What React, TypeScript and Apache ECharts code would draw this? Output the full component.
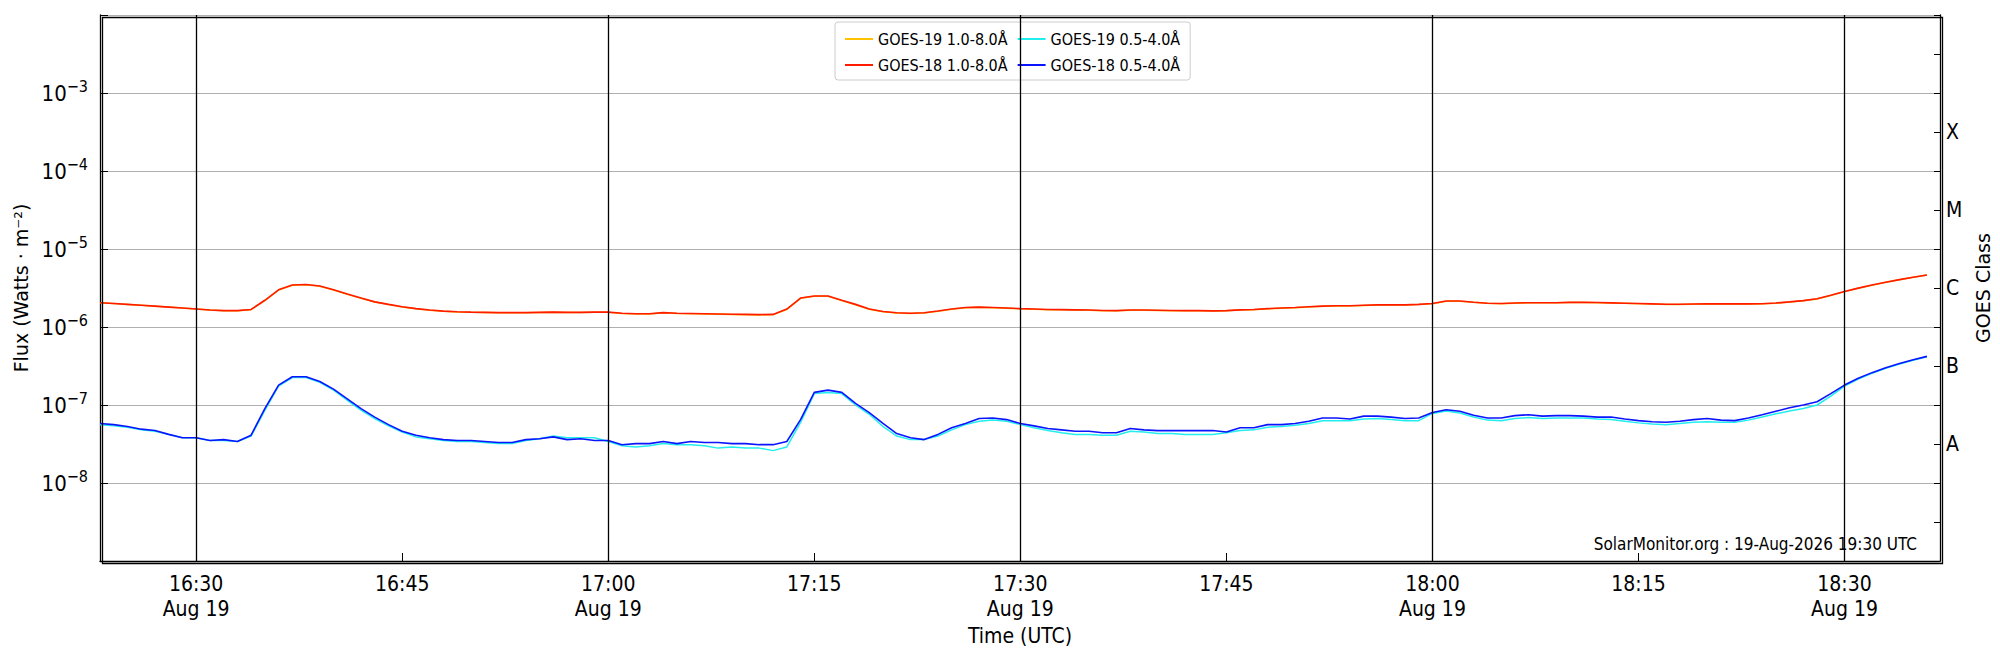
import { useEffect, useRef } from "react";
import * as echarts from "echarts";

// minutes after 16:00, one sample per minute from 16:23 to 18:36
const START_MIN = 23;

// GOES-18 1.0-8.0 Å, units of 1e-6 W/m²
const goes18Long = [
  2.05, 2.0, 1.95, 1.9, 1.85, 1.8, 1.75, 1.7, 1.65, 1.62, 1.62, 1.68, 2.2, 3.0, 3.45, 3.5, 3.35, 3.0, 2.65, 2.35,
  2.1, 1.95, 1.82, 1.72, 1.65, 1.6, 1.57, 1.55, 1.54, 1.53, 1.53, 1.53, 1.54, 1.55, 1.54, 1.54, 1.55,
  1.55, 1.5, 1.48, 1.48, 1.53, 1.5, 1.49, 1.48, 1.47, 1.46, 1.45, 1.44, 1.45, 1.7, 2.35, 2.5, 2.5, 2.2, 1.95, 1.7,
  1.58, 1.52, 1.5, 1.52, 1.6, 1.7, 1.78, 1.8, 1.78, 1.75, 1.72, 1.7, 1.68, 1.67, 1.66, 1.65, 1.63, 1.62, 1.65, 1.65,
  1.64, 1.63, 1.62, 1.62, 1.61, 1.62, 1.66, 1.68, 1.72, 1.75, 1.78, 1.82, 1.85, 1.87, 1.87, 1.9, 1.92, 1.92, 1.92, 1.95,
  2.0, 2.15, 2.15, 2.08, 2.02, 2.0, 2.03, 2.05, 2.05, 2.05, 2.07, 2.07, 2.06, 2.04, 2.02, 2.0, 1.98, 1.96, 1.96, 1.97,
  1.98, 1.99, 1.98, 1.98, 1.99, 2.03, 2.1, 2.18, 2.3, 2.55, 2.85, 3.15, 3.45, 3.75, 4.05, 4.35, 4.65,
];

// GOES-19 1.0-8.0 Å, units of 1e-6 W/m²
const goes19Long = [
  2.04, 2.0, 1.95, 1.9, 1.85, 1.8, 1.75, 1.7, 1.65, 1.62, 1.61, 1.67, 2.18, 2.98, 3.43, 3.48, 3.33, 2.98, 2.63, 2.33,
  2.09, 1.94, 1.81, 1.71, 1.64, 1.59, 1.56, 1.54, 1.53, 1.52, 1.52, 1.52, 1.53, 1.54, 1.53, 1.53, 1.54,
  1.54, 1.49, 1.47, 1.47, 1.52, 1.49, 1.48, 1.47, 1.46, 1.45, 1.44, 1.43, 1.44, 1.68, 2.33, 2.48, 2.48, 2.18, 1.93, 1.69,
  1.57, 1.51, 1.49, 1.51, 1.59, 1.69, 1.77, 1.79, 1.77, 1.74, 1.71, 1.69, 1.67, 1.66, 1.65, 1.64, 1.62, 1.61, 1.64, 1.64,
  1.63, 1.62, 1.61, 1.61, 1.6, 1.61, 1.65, 1.67, 1.71, 1.74, 1.77, 1.81, 1.84, 1.86, 1.86, 1.89, 1.91, 1.91, 1.91, 1.94,
  1.99, 2.14, 2.14, 2.07, 2.01, 1.99, 2.02, 2.04, 2.04, 2.04, 2.06, 2.06, 2.05, 2.03, 2.01, 1.99, 1.97, 1.95, 1.95, 1.96,
  1.97, 1.98, 1.97, 1.97, 1.98, 2.02, 2.09, 2.17, 2.29, 2.54, 2.84, 3.14, 3.44, 3.74, 4.04, 4.34, 4.64,
];

// GOES-18 0.5-4.0 Å, units of 1e-8 W/m²
const goes18Short = [
  5.8, 5.6, 5.3, 4.9, 4.7, 4.2, 3.8, 3.8, 3.5, 3.6, 3.4, 4.1, 9, 18, 23, 23, 20, 16, 12, 9,
  7, 5.6, 4.6, 4.1, 3.8, 3.6, 3.5, 3.5, 3.4, 3.3, 3.3, 3.6, 3.7, 3.9, 3.6, 3.7, 3.5,
  3.5, 3.1, 3.2, 3.2, 3.4, 3.2, 3.4, 3.3, 3.3, 3.2, 3.2, 3.1, 3.1, 3.4, 6.5, 14.5, 15.5, 14.5, 10.5, 8,
  5.8, 4.3, 3.8, 3.6, 4.2, 5.1, 5.8, 6.7, 6.8, 6.5, 5.8, 5.4, 5.0, 4.8, 4.6, 4.6, 4.4, 4.4, 5.0, 4.8,
  4.7, 4.7, 4.7, 4.7, 4.7, 4.5, 5.1, 5.1, 5.6, 5.6, 5.8, 6.2, 6.8, 6.8, 6.6, 7.2, 7.2, 7.0, 6.7, 6.8,
  8.0, 8.7, 8.3, 7.4, 6.8, 6.8, 7.3, 7.5, 7.2, 7.3, 7.3, 7.2, 7.0, 7.0, 6.6, 6.3, 6.1, 6.0, 6.2, 6.5,
  6.7, 6.4, 6.3, 6.8, 7.5, 8.3, 9.2, 10, 11, 14, 18, 22, 26, 30, 34, 38, 42,
];

// GOES-19 0.5-4.0 Å, units of 1e-8 W/m²
const goes19Short = [
  5.6, 5.4, 5.2, 4.8, 4.6, 4.2, 3.8, 3.8, 3.5, 3.5, 3.4, 4.0, 8.5, 17.5, 22.5, 22.5, 19.5, 15.5, 11.5, 8.6,
  6.7, 5.4, 4.5, 3.9, 3.7, 3.5, 3.4, 3.4, 3.3, 3.2, 3.2, 3.5, 3.7, 4.0, 3.8, 3.8, 3.8,
  3.4, 3.0, 2.9, 3.0, 3.2, 3.1, 3.1, 3.0, 2.8, 2.9, 2.8, 2.8, 2.6, 2.9, 6.0, 14.0, 14.5, 14.0, 10.0, 7.6,
  5.3, 4.0, 3.6, 3.6, 4.0, 4.8, 5.6, 6.2, 6.4, 6.2, 5.6, 5.1, 4.7, 4.4, 4.2, 4.2, 4.1, 4.1, 4.6, 4.5,
  4.3, 4.3, 4.2, 4.2, 4.2, 4.4, 4.7, 4.8, 5.2, 5.3, 5.5, 5.8, 6.3, 6.3, 6.3, 6.6, 6.7, 6.5, 6.3, 6.3,
  7.8, 8.4, 7.9, 7.0, 6.4, 6.3, 6.7, 6.9, 6.7, 6.8, 6.8, 6.8, 6.6, 6.5, 6.2, 5.9, 5.7, 5.6, 5.8, 6.0,
  6.1, 6.0, 6.0, 6.4, 7.0, 7.7, 8.4, 9.0, 10, 13, 17.5, 21.5, 25.5, 29.5, 33.5, 37.5, 41.5,
];

// x tick positions (minutes after 16:00)
const tickMinutes = [30, 45, 60, 75, 90, 105, 120, 135, 150];
const dayLines = [30, 60, 90, 120, 150];
const classLetters: Record<string, string> = { "-7.5": "A", "-6.5": "B", "-5.5": "C", "-4.5": "M", "-3.5": "X" };
const supers: Record<string, string> = { "-3": "−3", "-4": "−4", "-5": "−5", "-6": "−6", "-7": "−7", "-8": "−8" };

const pairs = (arr: number[], scale: number) => arr.map((v, i) => [START_MIN + i, v * scale]);

const fmtTime = (m: number) => {
  const h = 16 + Math.floor(m / 60);
  const mm = String(m % 60).padStart(2, "0");
  const t = `${h}:${mm}`;
  return m % 30 === 0 ? `${t}\nAug 19` : t;
};

export default function App() {
  const ref = useRef<HTMLDivElement>(null);

  useEffect(() => {
    document.body.style.margin = "0";
    if (!ref.current) return;
    const chart = echarts.init(ref.current, undefined, { renderer: "svg" });
    const tickFont = "DejaVu Sans Condensed";
    chart.setOption({
      animation: false,
      backgroundColor: "#fff",
      grid: { left: 100, right: 60, top: 15, bottom: 89, outerBoundsMode: "none", containLabel: false },
      legend: {
        left: 835,
        top: 22,
        itemWidth: 28,
        itemHeight: 2,
        itemGap: 10,
        width: 372,
        padding: [9, 10, 7, 10],
        borderColor: "#ccc",
        borderWidth: 1,
        borderRadius: 3,
        icon: "rect",
        textStyle: { fontFamily: tickFont, fontSize: 16, color: "#000", width: 138, overflow: "none" },
        data: ["GOES-19 1.0-8.0Å", "GOES-19 0.5-4.0Å", "GOES-18 1.0-8.0Å", "GOES-18 0.5-4.0Å"],
      },
      xAxis: {
        type: "value",
        min: 23,
        max: 156.95,
        name: "Time (UTC)",
        nameLocation: "middle",
        nameGap: 62,
        nameTextStyle: { fontFamily: tickFont, fontSize: 21, color: "#000" },
        axisLine: { onZero: false, lineStyle: { color: "#000", width: 1.3 } },
        axisTick: { inside: true, length: 8, customValues: tickMinutes, lineStyle: { color: "#000" } },
        axisLabel: {
          customValues: tickMinutes,
          formatter: (v: number) => fmtTime(v),
          fontFamily: tickFont,
          fontSize: 21,
          color: "#000",
          lineHeight: 25,
          margin: 10,
        },
        splitLine: { show: false },
      },
      yAxis: [
        {
          type: "log",
          min: 1e-9,
          max: 1e-2,
          logBase: 10,
          name: "Flux (Watts · m⁻²)",
          nameLocation: "middle",
          nameGap: 70,
          nameTextStyle: { fontFamily: "DejaVu Sans", fontSize: 19, color: "#000" },
          axisLine: { lineStyle: { color: "#000", width: 1.3 } },
          axisTick: { inside: true, length: 8, lineStyle: { color: "#000" } },
          axisLabel: {
            fontFamily: tickFont,
            fontSize: 22,
            color: "#000",
            margin: 12,
            formatter: (v: number) => {
              const e = String(Math.round(Math.log10(v)));
              return supers[e] ? `10{s|${supers[e]}}` : "";
            },
            rich: { s: { fontSize: 16, verticalAlign: "top", padding: [0, 0, 14, 0], fontFamily: tickFont } },
          },
          splitLine: { show: true, lineStyle: { color: "#b0b0b0", width: 1.2 } },
        },
        {
          type: "value",
          min: -9,
          max: -2,
          interval: 0.5,
          position: "right",
          name: "GOES Class",
          nameLocation: "middle",
          nameGap: 30,
          nameRotate: 90,
          nameTextStyle: { fontFamily: "DejaVu Sans", fontSize: 19, color: "#000" },
          axisLine: { show: true, lineStyle: { color: "#000", width: 1.3 } },
          axisTick: { inside: true, length: 6, lineStyle: { color: "#000" } },
          axisLabel: {
            fontFamily: tickFont,
            fontSize: 21,
            color: "#000",
            margin: 6,
            formatter: (v: number) => classLetters[String(v)] ?? "",
          },
          splitLine: { show: false },
        },
      ],
      graphic: [
        {
          type: "text",
          right: 83,
          top: 535,
          style: { text: "SolarMonitor.org : 19-Aug-2026 19:30 UTC", fontFamily: tickFont, fontSize: 17, fill: "#000" },
        },
        {
          type: "rect",
          left: 100,
          top: 15,
          shape: { width: 1840, height: 546 },
          style: { fill: "none", stroke: "#000", lineWidth: 1.3 },
          silent: true,
          z: 100,
        },
      ],
      series: [
        {
          name: "GOES-19 1.0-8.0Å",
          type: "line",
          data: pairs(goes19Long, 1e-6),
          showSymbol: false,
          color: "#ffc200",
          lineStyle: { width: 1.5 },
          z: 2,
          markLine: {
            silent: true,
            symbol: "none",
            label: { show: false },
            lineStyle: { color: "#000", type: "solid", width: 1.3 },
            data: dayLines.map((m) => ({ xAxis: m })),
          },
        },
        {
          name: "GOES-19 0.5-4.0Å",
          type: "line",
          data: pairs(goes19Short, 1e-8),
          showSymbol: false,
          color: "#22eeee",
          lineStyle: { width: 1.5 },
          z: 2,
        },
        {
          name: "GOES-18 1.0-8.0Å",
          type: "line",
          data: pairs(goes18Long, 1e-6),
          showSymbol: false,
          color: "#ff1a00",
          lineStyle: { width: 1.6 },
          z: 3,
        },
        {
          name: "GOES-18 0.5-4.0Å",
          type: "line",
          data: pairs(goes18Short, 1e-8),
          showSymbol: false,
          color: "#0a14ff",
          lineStyle: { width: 1.6 },
          z: 3,
        },
      ],
    });
    return () => chart.dispose();
  }, []);

  return <div ref={ref} style={{ width: 2000, height: 650 }} />;
}
